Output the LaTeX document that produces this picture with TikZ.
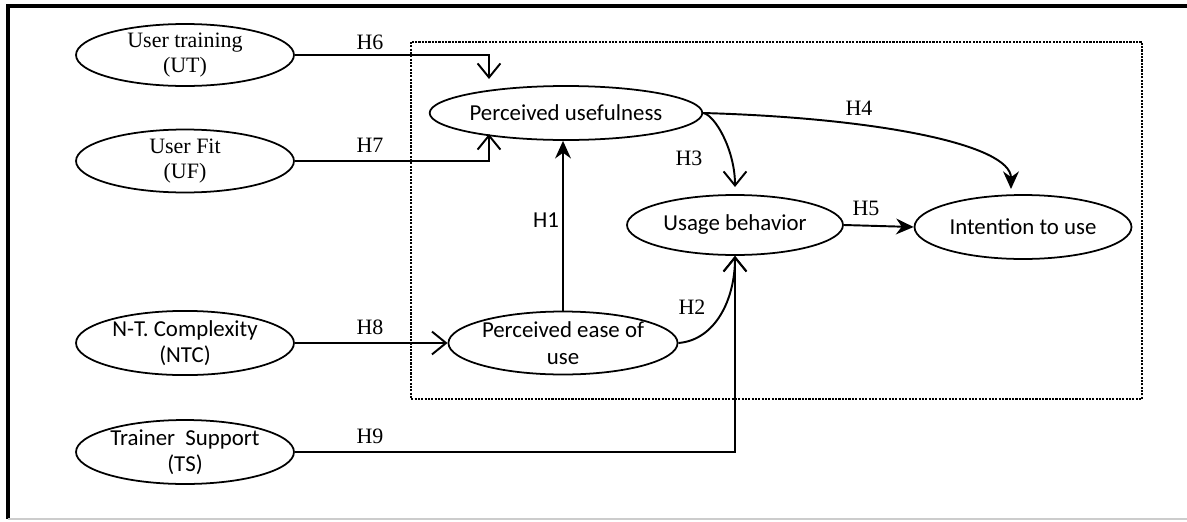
\documentclass[tikz,border=0pt]{standalone}
\usepackage{fontspec}
\setmainfont{Liberation Serif}
\newfontfamily\calib{Carlito}
\usetikzlibrary{arrows.meta,shapes.geometric}
\tikzset{
  ell/.style={draw, ellipse, line width=1pt, inner sep=0pt, align=center},
  serif/.style={font=\fontsize{12.5}{14}\selectfont},
  sans/.style={font=\calib\fontsize{13}{15}\selectfont},
  conn/.style={line width=1.1pt},
  openarr/.style={conn, -{Straight Barb[length=8pt,width=13pt,line width=1.1pt]}},
  fillarr/.style={conn, -{Stealth[length=10pt,width=9pt]}},
  hlab/.style={font=\fontsize{12.5}{14}\selectfont, inner sep=0pt},
  hlabs/.style={font=\calib\fontsize{13}{15}\selectfont, inner sep=0pt},
  frame/.style={line width=2.2pt, black},
  box/.style={line width=1.3pt, dash pattern=on 1.2pt off 0.7pt}
}
\begin{document}
\begin{tikzpicture}[x=0.02cm,y=-0.02cm]
\useasboundingbox (0,0) rectangle (1187,521);
% outer frame
\draw[frame] (8,519) -- (8,6) -- (1187,6);
\draw[line width=0.8pt, black!20] (8,519) -- (1187,519);
% dotted box
\draw[box] (411,42) rectangle (1142,399);
% left ellipses
\node[ell, serif, minimum width=4.36cm, minimum height=1.24cm] (ut) at (185,55)
  {\fontsize{12.5}{17}\selectfont User training\\(UT)};
\node[ell, serif, minimum width=4.36cm, minimum height=1.26cm] (uf) at (185,161)
  {\fontsize{12.5}{14}\selectfont User Fit\\(UF)};
\node[ell, sans, minimum width=4.36cm, minimum height=1.26cm] (ntc) at (185,343)
  {\calib\fontsize{13}{20}\selectfont N-T. Complexity\\(NTC)};
\node[ell, sans, minimum width=4.36cm, minimum height=1.28cm] (ts) at (185,452)
  {\calib\fontsize{13}{15.5}\selectfont Trainer\ \ Support\\(TS)};
% core ellipses
\node[ell, sans, minimum width=4.4cm, minimum height=1.08cm] (pu) at (566,113) {Perceived usefulness};
\node[ell, sans, minimum width=4.32cm, minimum height=1.2cm] (ub) at (735,225) {Usage behavior};
\node[ell, sans, minimum width=4.34cm, minimum height=1.28cm] (itu) at (1023,227) {Intention to use};
\node[ell, sans, minimum width=4.38cm, minimum height=1.26cm] (peu) at (563,343)
  {\calib\fontsize{13}{14}\selectfont Perceived ease of\\use};
% coordinates for free ends
\coordinate (h6end) at (489,79);
\coordinate (h7end) at (489,134);
\coordinate (h4end) at (1011,189);
\coordinate (h3end) at (735,187);
% connectors
\draw[openarr] (ut.east) -| (h6end);
\draw[openarr] (uf.east) -| (h7end);
\draw[openarr] (ntc.east) -- (peu.west);
\draw[openarr] (ts.east) -| (ub.south);
\draw[fillarr] (peu.north) -- (peu.north |- pu.south);
\draw[openarr] (pu.east) .. controls (715,115) and (735,150) .. (h3end);
\draw[fillarr] (pu.east) .. controls (880,118) and (1011,145) .. (h4end);
\draw[openarr] (peu.east) .. controls (715,340) and (735,300) .. (ub.south);
\draw[fillarr] (ub.east) -- (itu.west);
% labels
\node[hlab] (l6) at (370,42) {H6};
\node[hlab] (l7) at (370,145) {H7};
\node[hlab] (l8) at (370,327) {H8};
\node[hlab] (l9) at (370,436) {H9};
\node[hlabs] (l1) at (546,220) {H1};
\node[hlab] (l3) at (689,158) {H3};
\node[hlab] (l2) at (692,307) {H2};
\node[hlab] (l4) at (859,108) {H4};
\node[hlab] (l5) at (866,208) {H5};
\end{tikzpicture}
\end{document}
